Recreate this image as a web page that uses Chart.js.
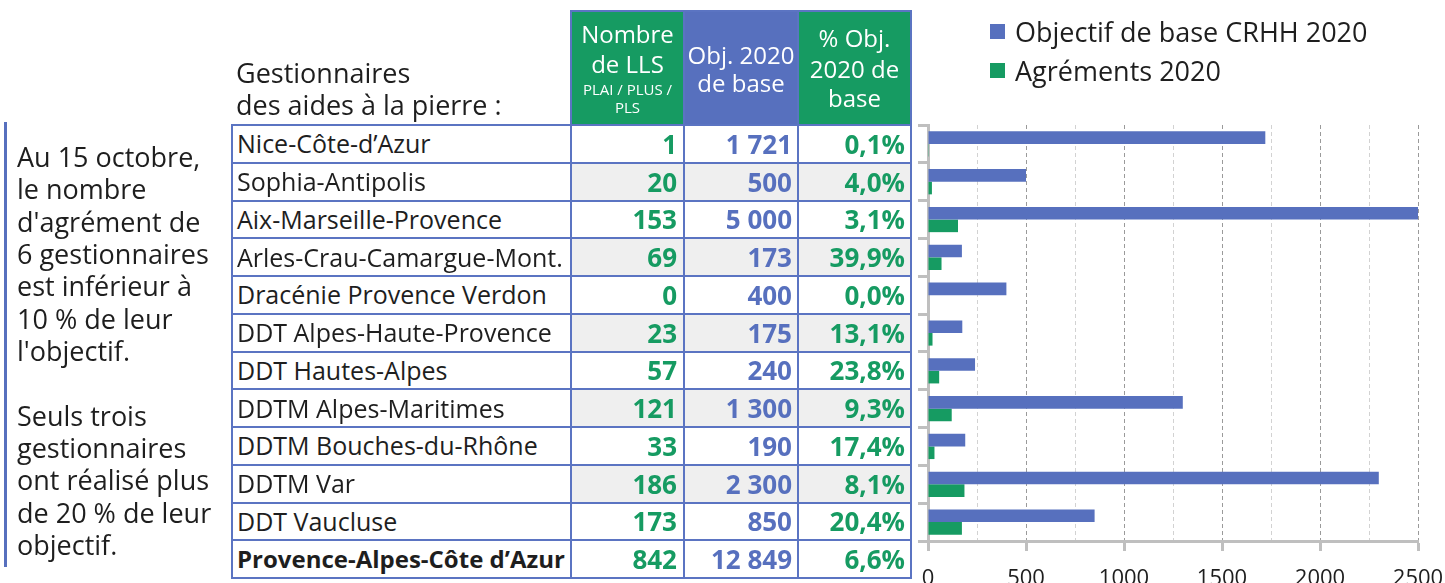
<!DOCTYPE html>
<html><head><meta charset="utf-8">
<script src="https://cdn.jsdelivr.net/npm/chart.js@4.4.0/dist/chart.umd.min.js"></script>
<style>
html,body{margin:0;padding:0;background:#fff}
body{width:1445px;height:583px;overflow:hidden;position:relative;font-family:"Open Sans",sans-serif;color:#1e1e1e}
.a{position:absolute;white-space:nowrap}
#chartBox{position:absolute;left:900px;top:115px;width:545px;height:468px}
</style></head><body>
<div id="chartBox"><canvas id="c" width="545" height="468"></canvas></div>
<script>
// ---- data ----
const categories = ["Nice-Côte-d’Azur","Sophia-Antipolis","Aix-Marseille-Provence","Arles-Crau-Camargue-Mont.","Dracénie Provence Verdon","DDT Alpes-Haute-Provence","DDT Hautes-Alpes","DDTM Alpes-Maritimes","DDTM Bouches-du-Rhône","DDTM Var","DDT Vaucluse"];
const agrements = [1,20,153,69,0,23,57,121,33,186,173];
const objectifs = [1721,500,5000,173,400,175,240,1300,190,2300,850];
const pctLabels = ["0,1%","4,0%","3,1%","39,9%","0,0%","13,1%","23,8%","9,3%","17,4%","8,1%","20,4%"];
const totalLabel = "Provence-Alpes-Côte d’Azur";
const totalAgrements = 842;
const totalObjectif = 12849;
const totalPct = "6,6%";
const seriesNames = ["Objectif de base CRHH 2020","Agréments 2020"];
const xTickValues = [0,500,1000,1500,2000,2500];
const headerCol1 = ["Nombre","de LLS"];
const headerCol1Small = ["PLAI / PLUS /","PLS"];
const headerCol2 = ["Obj. 2020","de base"];
const headerCol3 = ["% Obj.","2020 de","base"];
const headerLeft = ["Gestionnaires","des aides à la pierre :"];
const noteLines = ["Au 15 octobre,","le nombre","d'agrément de","6 gestionnaires","est inférieur à","10 % de leur","l'objectif.","","Seuls trois","gestionnaires","ont réalisé plus","de 20 % de leur","objectif."];

// ---- styles ----
const BLUE = '#5770BE', GREEN = '#169B62', LINE = '#5b74c2', GRAYBG = '#efefef', AXIS = '#bfbfbf';
const rowTop = 125, rowH = 37.75;
const colX = [232, 571, 684, 798, 911];

function el(css, text){
  const d = document.createElement('div');
  d.className = 'a';
  Object.assign(d.style, css);
  if (text !== undefined) d.textContent = text;
  document.body.appendChild(d);
  return d;
}
function rect(x,y,w,h,c){ return el({left:x+'px',top:y+'px',width:w+'px',height:h+'px',background:c}); }
function txt(text, x, cy, size, color, weight, align){
  const L = Math.round(size*1.4);
  const css = {top:(cy - L/2)+'px', height:L+'px', lineHeight:L+'px', fontSize:size+'px', color:color, fontWeight:weight||400};
  if (align === 'right'){ css.left=(x-500)+'px'; css.width='500px'; css.textAlign='right'; }
  else if (align === 'center'){ css.left=(x-300)+'px'; css.width='600px'; css.textAlign='center'; }
  else { css.left = x+'px'; }
  return el(css, text);
}
function fmt(n){ return String(n).replace(/\B(?=(\d{3})+(?!\d))/g, ' '); }

// header fills
rect(colX[1], 11, colX[2]-colX[1], rowTop-11, GREEN);
rect(colX[2], 11, colX[3]-colX[2], rowTop-11, BLUE);
rect(colX[3], 11, colX[4]-colX[3], rowTop-11, GREEN);

// body backgrounds
const nRows = categories.length + 1;
for (let i=0;i<nRows;i++){
  if (i%2===1 && i<nRows-1) rect(colX[1], rowTop+i*rowH, colX[4]-colX[1], rowH, GRAYBG);
}
// lines
for (let i=0;i<=nRows;i++) rect(colX[0]-1, rowTop+i*rowH-1, colX[4]-colX[0]+2, 2, LINE);
for (let j=0;j<colX.length;j++) rect(colX[j]-1, rowTop-1, 2, nRows*rowH+2, LINE);
rect(colX[1]-1, 10, colX[4]-colX[1]+2, 2, LINE);
for (let j=1;j<colX.length;j++) rect(colX[j]-1, 10, 2, rowTop-10, LINE);

// header texts
const c1 = (colX[1]+colX[2])/2, c2 = (colX[2]+colX[3])/2, c3 = (colX[3]+colX[4])/2;
txt(headerCol1[0], c1, 34, 24, '#fff', 400, 'center');
txt(headerCol1[1], c1, 64, 24, '#fff', 400, 'center');
txt(headerCol1Small[0], c1, 89, 15, '#fff', 400, 'center');
txt(headerCol1Small[1], c1, 107, 15, '#fff', 400, 'center');
txt(headerCol2[0], c2, 55, 24, '#fff', 400, 'center');
txt(headerCol2[1], c2, 83, 24, '#fff', 400, 'center');
txt(headerCol3[0], c3, 38, 24, '#fff', 400, 'center');
txt(headerCol3[1], c3, 69, 24, '#fff', 400, 'center');
txt(headerCol3[2], c3, 98, 24, '#fff', 400, 'center');
txt(headerLeft[0], 236, 73, 27, '#1e1e1e', 400, 'left');
txt(headerLeft[1], 236, 105, 27, '#1e1e1e', 400, 'left');

// body texts
for (let i=0;i<nRows;i++){
  const cy = rowTop + i*rowH + rowH/2;
  const isTotal = i === nRows-1;
  const name = isTotal ? totalLabel : categories[i];
  const a = isTotal ? totalAgrements : agrements[i];
  const o = isTotal ? totalObjectif : objectifs[i];
  const p = isTotal ? totalPct : pctLabels[i];
  txt(name, 237, cy, isTotal?24:25, '#1e1e1e', isTotal?700:400, 'left');
  txt(fmt(a), colX[2]-7, cy, 26, GREEN, 700, 'right');
  txt(fmt(o), colX[3]-6, cy, 26, BLUE, 700, 'right');
  txt(p, colX[4]-6, cy, 26, GREEN, 700, 'right');
}

// left note
rect(4, 122, 3, 445, BLUE);
el({left:'17px', top:'141px', fontSize:'27px', lineHeight:'32.33px', color:'#1e1e1e'}).innerHTML =
  noteLines.map(s => s===''?'&nbsp;':s.replace(/&/g,'&amp;').replace(/</g,'&lt;')).join('<br>');

// legend (HTML, from dataset names)
const legendColors = [BLUE, GREEN];
seriesNames.forEach((n,k)=>{
  rect(990, 24 + k*38.5, 15, 15, legendColors[k]);
  txt(n, 1015, 32 + k*38.5, 27, '#1e1e1e', 400, 'left');
});

// ---- chart ----
new Chart(document.getElementById('c'), {
  type: 'bar',
  data: {
    labels: categories,
    datasets: [
      {label: seriesNames[0], data: objectifs, backgroundColor: BLUE, borderWidth: 0, categoryPercentage: 0.667, barPercentage: 1.0},
      {label: seriesNames[1], data: agrements, backgroundColor: GREEN, borderWidth: 0, categoryPercentage: 0.667, barPercentage: 1.0}
    ]
  },
  options: {
    indexAxis: 'y',
    responsive: false,
    animation: false,
    devicePixelRatio: 1,
    layout: {padding: {top: 10, right: 27, left: 0, bottom: 0}},
    plugins: {legend: {display: false}, tooltip: {enabled: false}, title: {display: false}},
    scales: {
      x: {
        min: 0, max: 2500,
        ticks: {
          stepSize: 250, autoSkip: false, maxRotation: 0, color: '#1e1e1e', padding: 15,
          font: {family: 'Open Sans', size: 22},
          callback: v => xTickValues.includes(v) ? String(v) : ''
        },
        grid: {
          lineWidth: 1,
          color: c => (c.tick && c.tick.value % 500 === 0) ? '#9a9a9a' : '#d2d2d2',
          drawTicks: true, tickLength: 10, tickWidth: 3,
          tickColor: c => (c.tick && c.tick.value % 500 === 0) ? AXIS : 'rgba(0,0,0,0)'
        },
        border: {display: true, color: AXIS, width: 3, dash: [4,3]},
        afterFit(s){ s.height = 42; s.paddingLeft = 0; s.paddingRight = 0; }
      },
      y: {
        ticks: {display: false},
        grid: {display: true, offset: true, drawOnChartArea: false, drawTicks: true, tickLength: 10, tickWidth: 3, tickColor: AXIS},
        border: {display: true, color: AXIS, width: 3},
        afterFit(s){ s.width = 28; }
      }
    }
  }
});
</script>
</body></html>
